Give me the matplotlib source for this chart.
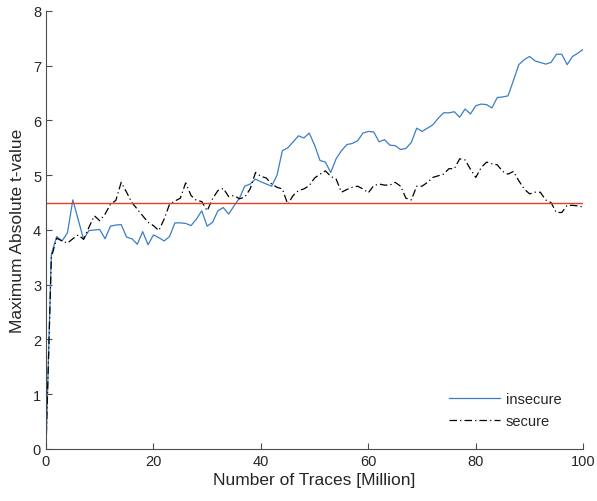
import numpy as np
import matplotlib.pyplot as plt

plt.rcParams['font.family'] = ['Liberation Sans', 'DejaVu Sans']

# traces in millions
traces = np.arange(0, 101)

insecure = [
    0.00, 3.56, 3.88, 3.80, 3.95, 4.55, 4.19, 3.83, 3.99, 4.00,
    4.01, 3.84, 4.07, 4.09, 4.10, 3.87, 3.84, 3.74, 3.97, 3.73,
    3.91, 3.86, 3.80, 3.88, 4.13, 4.13, 4.12, 4.08, 4.20, 4.35,
    4.07, 4.14, 4.35, 4.41, 4.29, 4.44, 4.58, 4.80, 4.84, 4.93,
    4.88, 4.84, 4.80, 5.00, 5.45, 5.50, 5.61, 5.72, 5.68, 5.77,
    5.55, 5.27, 5.24, 5.05, 5.30, 5.45, 5.56, 5.58, 5.63, 5.77,
    5.80, 5.79, 5.61, 5.65, 5.55, 5.54, 5.47, 5.49, 5.60, 5.86,
    5.80, 5.86, 5.92, 6.04, 6.14, 6.14, 6.16, 6.06, 6.21, 6.12,
    6.27, 6.30, 6.29, 6.23, 6.42, 6.43, 6.45, 6.73, 7.02, 7.11,
    7.17, 7.09, 7.06, 7.03, 7.06, 7.21, 7.21, 7.02, 7.17, 7.23,
    7.30,
]

secure = [
    0.00, 3.50, 3.85, 3.80, 3.76, 3.84, 3.91, 3.83, 4.05, 4.26,
    4.17, 4.29, 4.47, 4.54, 4.87, 4.69, 4.50, 4.38, 4.26, 4.14,
    4.08, 3.99, 4.20, 4.47, 4.53, 4.58, 4.86, 4.63, 4.54, 4.52,
    4.35, 4.57, 4.72, 4.76, 4.61, 4.63, 4.57, 4.60, 4.75, 5.05,
    4.98, 4.95, 4.84, 4.78, 4.75, 4.47, 4.63, 4.72, 4.75, 4.81,
    4.95, 5.02, 5.08, 4.98, 4.93, 4.69, 4.74, 4.78, 4.80, 4.75,
    4.68, 4.81, 4.84, 4.82, 4.82, 4.87, 4.80, 4.58, 4.55, 4.80,
    4.80, 4.87, 4.96, 4.99, 5.02, 5.12, 5.12, 5.30, 5.28, 5.11,
    4.96, 5.14, 5.24, 5.21, 5.19, 5.07, 5.02, 5.07, 4.90, 4.75,
    4.66, 4.69, 4.69, 4.55, 4.50, 4.32, 4.32, 4.45, 4.45, 4.44,
    4.42,
]

threshold = 4.5

fig = plt.figure(figsize=(5.97, 5.02), dpi=100)
ax = fig.add_axes([0.077, 0.1036, 0.9, 0.8725])

ax.plot(traces, insecure, color='#3a7dc8', lw=0.9, label='insecure')
ax.plot(traces, secure, color='black', lw=0.9, dashes=(6, 2.5, 1, 2.5), label='secure')
ax.axhline(threshold, color='#f03a26', lw=1.0)

ax.set_xlim(0, 100)
ax.set_ylim(0, 8)
ax.set_xticks(range(0, 101, 20))
ax.set_yticks(range(0, 9))

for s in ['top', 'right']:
    ax.spines[s].set_visible(False)
for s in ['left', 'bottom']:
    ax.spines[s].set_color('#4d4d4d')
    ax.spines[s].set_linewidth(0.8)
ax.tick_params(direction='in', length=4, width=0.8, color='#4d4d4d',
               labelsize=10.5, labelcolor='#262626')

ax.set_xlabel('Number of Traces [Million]', fontsize=12.5, color='#262626', labelpad=3)
ax.set_ylabel('Maximum Absolute t-value', fontsize=12.5, color='#262626', labelpad=6)

leg = ax.legend(loc='lower right', bbox_to_anchor=(0.97, 0.035), borderaxespad=0,
                frameon=False, fontsize=10.5, handlelength=3.5, handletextpad=0.4,
                labelspacing=0.55)
for t in leg.get_texts():
    t.set_color('#262626')

fig.savefig('out.png', dpi=100)
